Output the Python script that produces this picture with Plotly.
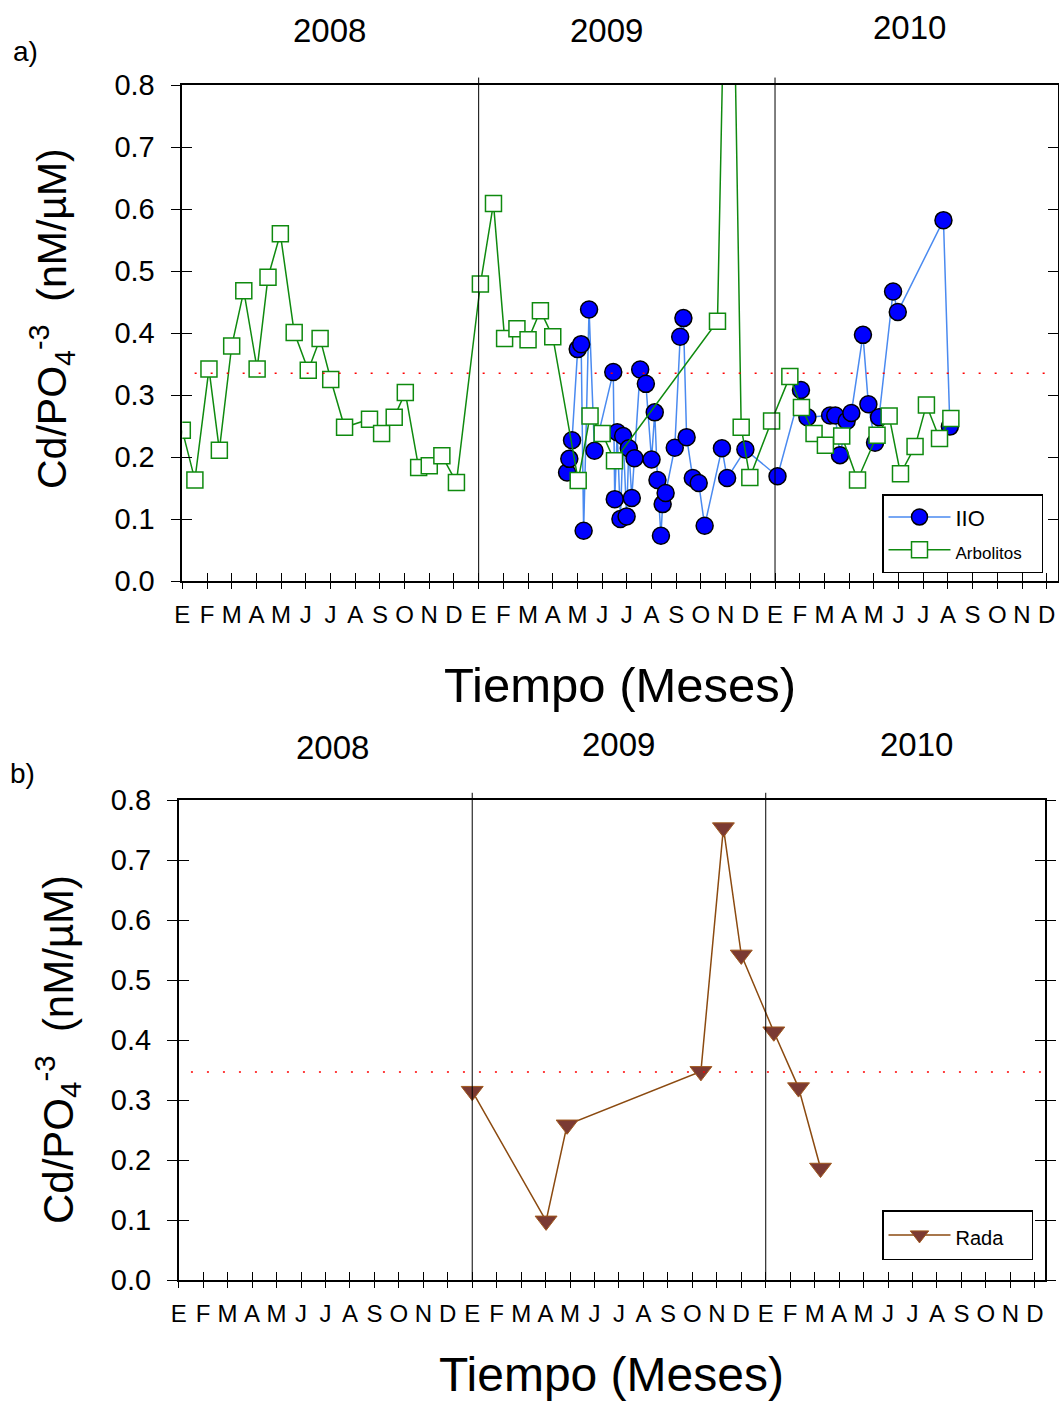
import plotly.graph_objects as go

FONT = "Liberation Sans, Arial, sans-serif"

# ---------------- data ----------------
months = ["E", "F", "M", "A", "M", "J", "J", "A", "S", "O", "N", "D"]
month_ticks = list(range(36))
month_labels = months * 3
years = ["2008", "2009", "2010"]
y_ticks = [0.0, 0.1, 0.2, 0.3, 0.4, 0.5, 0.6, 0.7, 0.8]

# Panel a) - months since Jan 2008
arb_m = [0.0, 0.51, 1.08, 1.5, 2.0, 2.49, 3.03, 3.47, 3.97, 4.53, 5.1, 5.58, 6.01,
         6.57, 7.58, 8.07, 8.58, 9.03, 9.57, 10.0, 10.51, 11.1, 12.07, 12.6, 13.05,
         13.55, 14.0, 14.5, 15.0, 16.03, 16.51, 17.0, 17.5, 21.67, 22.16, 22.63,
         22.98, 23.86, 24.6, 25.07, 25.58, 26.04, 26.7, 27.34, 28.13, 28.62, 29.08,
         29.67, 30.13, 30.66, 31.12]
arb_v = [0.243, 0.163, 0.342, 0.211, 0.379, 0.468, 0.342, 0.490, 0.560, 0.401, 0.340,
         0.391, 0.325, 0.248, 0.261, 0.238, 0.264, 0.304, 0.183, 0.186, 0.202, 0.159,
         0.479, 0.609, 0.391, 0.407, 0.389, 0.436, 0.394, 0.162, 0.266, 0.238, 0.194,
         0.419, 1.39, 0.248, 0.167, 0.258, 0.330, 0.280, 0.238, 0.219, 0.234, 0.163,
         0.235, 0.266, 0.173, 0.217, 0.284, 0.230, 0.262]

iio_m = [15.58, 15.67, 15.78, 16.01, 16.15, 16.25, 16.47, 16.69, 17.45, 17.51, 17.61,
         17.74, 17.85, 17.99, 18.08, 18.2, 18.31, 18.54, 18.77, 19.0, 19.13, 19.24,
         19.38, 19.45, 19.57, 19.94, 20.16, 20.29, 20.42, 20.67, 20.91, 21.15, 21.85,
         22.06, 22.8, 24.1, 25.05, 25.31, 26.23, 26.44, 26.63, 26.9, 27.09, 27.56,
         27.78, 28.05, 28.21, 28.78, 28.97, 30.82, 31.08]
iio_v = [0.175, 0.197, 0.227, 0.374, 0.382, 0.081, 0.438, 0.210, 0.337, 0.132, 0.240,
         0.100, 0.234, 0.104, 0.214, 0.134, 0.198, 0.341, 0.318, 0.196, 0.272, 0.163,
         0.073, 0.124, 0.142, 0.215, 0.394, 0.424, 0.232, 0.166, 0.158, 0.089, 0.214,
         0.166, 0.212, 0.169, 0.308, 0.264, 0.267, 0.267, 0.203, 0.258, 0.271, 0.397,
         0.285, 0.223, 0.264, 0.467, 0.434, 0.582, 0.249]

ref_a = 0.335

# Panel b)
rada_m = [12.0, 15.02, 15.88, 21.35, 22.27, 23.0, 24.33, 25.34, 26.24]
rada_v = [0.315, 0.099, 0.259, 0.348, 0.754, 0.542, 0.414, 0.321, 0.187]
ref_b = 0.347

year_breaks = [12, 24]

# ---------------- figure ----------------
W, H = 1059, 1405
NB = "\u00a0"
fig = go.Figure()

fig.add_trace(go.Scatter(
    x=iio_m, y=iio_v, mode="lines+markers",
    name="<span style='font-size:22px'>IIO</span>",
    line=dict(color="#4a8af0", width=1.5),
    marker=dict(symbol="circle", size=17, color="#0000ff",
                line=dict(color="black", width=1.5)),
    xaxis="x", yaxis="y", legend="legend"))
fig.add_trace(go.Scatter(
    x=arb_m, y=arb_v, mode="lines+markers",
    name="<span style='font-size:17px'>Arbolitos" + NB * 3 + "</span>",
    line=dict(color="#0f8a0f", width=1.5),
    marker=dict(symbol="square", size=16, color="white",
                line=dict(color="#0f8a0f", width=1.5)),
    xaxis="x", yaxis="y", legend="legend"))
fig.add_trace(go.Scatter(
    x=rada_m, y=rada_v, mode="lines+markers",
    name="<span style='font-size:20px'>Rada" + NB * 4 + "</span>",
    line=dict(color="#8b4a10", width=1.5),
    marker=dict(symbol="triangle-down", size=19, color="#7b3a33",
                line=dict(color="#a0581c", width=1)),
    xaxis="x2", yaxis="y2", legend="legend2"))

# invisible helpers so overlay tick axes are drawn
for xa, ya in [("x3", "y3"), ("x4", "y4"), ("x4", "y5")]:
    fig.add_trace(go.Scatter(x=[1], y=[0.1], mode="markers", opacity=0,
                             showlegend=False, hoverinfo="skip",
                             xaxis=xa, yaxis=ya))

# domains (pixel -> paper)
ax_dom = [182.3 / W, 1057.7 / W]
ay_dom = [1 - 581 / H, 1 - 85 / H]
bx_dom = [178.7 / W, 1045 / W]
by_dom = [1 - 1280.3 / H, 1 - 800 / H]
ax_rng = [0, (1057.7 - 182.3) / 24.697]
bx_rng = [0, (1045 - 178.7) / 24.46]

tickfont_x = dict(family=FONT, size=24, color="black")
tickfont_y = dict(family=FONT, size=29, color="black")

def main_x(dom, rng, anchor):
    return dict(domain=dom, range=rng, anchor=anchor, showgrid=False, zeroline=False,
                showline=True, linecolor="black", linewidth=1.5, mirror=True,
                tickmode="array", tickvals=month_ticks, ticktext=month_labels,
                ticks="outside", ticklen=6, tickwidth=1.3, tickcolor="black",
                tickfont=tickfont_x, ticklabelstandoff=5, automargin=False)

def main_y(dom, anchor):
    return dict(domain=dom, range=[0, 0.8], anchor=anchor, showgrid=False, zeroline=False,
                showline=True, linecolor="black", linewidth=1.5, mirror=True,
                tickmode="array", tickvals=y_ticks, ticktext=[f"{v:.1f}" for v in y_ticks],
                ticks="outside", ticklen=10, tickwidth=1.3, tickcolor="black",
                tickfont=tickfont_y, ticklabelstandoff=10, automargin=False)

def over_x(over, rng, anchor):
    return dict(overlaying=over, range=rng, anchor=anchor, side="bottom",
                showgrid=False, zeroline=False, showline=False, showticklabels=False,
                tickmode="array", tickvals=month_ticks, ticks="inside", ticklen=8,
                tickwidth=1.3, tickcolor="black", automargin=False)

def over_y(over, anchor, side, ticks, mirror):
    return dict(overlaying=over, range=[0, 0.8], anchor=anchor, side=side,
                showgrid=False, zeroline=False, showline=False, showticklabels=False,
                tickmode="array", tickvals=y_ticks, ticks=ticks, ticklen=10,
                tickwidth=1.3, tickcolor="black", mirror=mirror, automargin=False)

fig.update_layout(
    template="none",
    xaxis=main_x(ax_dom, ax_rng, "y"),
    yaxis=main_y(ay_dom, "x"),
    xaxis2=main_x(bx_dom, bx_rng, "y2"),
    yaxis2=main_y(by_dom, "x2"),
    xaxis3=over_x("x", ax_rng, "y"),
    yaxis3=over_y("y", "x", "left", "inside", "ticks"),
    xaxis4=over_x("x2", bx_rng, "y2"),
    yaxis4=over_y("y2", "x2", "left", "inside", "ticks"),
    yaxis5=over_y("y2", "x2", "right", "outside", False),
)

# year separators and reference lines
shapes = []
for xr, yr in [("x", "y"), ("x2", "y2")]:
    for b in year_breaks:
        shapes.append(dict(type="line", xref=xr, yref=f"{yr} domain", x0=b, x1=b,
                           y0=0, y1=1.015, line=dict(color="black", width=1)))
shapes.append(dict(type="line", xref="x", yref="y", x0=0.5, x1=ax_rng[1], y0=ref_a, y1=ref_a,
                   line=dict(color="red", width=1.5, dash="2px,14px")))
shapes.append(dict(type="line", xref="x2", yref="y2", x0=0.5, x1=bx_rng[1], y0=ref_b, y1=ref_b,
                   line=dict(color="red", width=1.5, dash="2px,14px")))
fig.update_layout(shapes=shapes)

def px(x, y):
    return x / W, 1 - y / H

ann = []
year_pos_a = [(329, 30), (606, 30), (909, 28)]
year_pos_b = [(332, 747), (618, 745), (916, 745)]
for yv, (x, y) in zip(years, year_pos_a):
    X, Y = px(x, y)
    ann.append(dict(text=yv, x=X, y=Y, font=dict(family=FONT, size=33, color="black")))
for yv, (x, y) in zip(years, year_pos_b):
    X, Y = px(x, y)
    ann.append(dict(text=yv, x=X, y=Y, font=dict(family=FONT, size=33, color="black")))
for t, (x, y) in [("a)", (25, 52)), ("b)", (22, 773))]:
    X, Y = px(x, y)
    ann.append(dict(text=t, x=X, y=Y, font=dict(family=FONT, size=28, color="black")))
for (x, y, s) in [(620, 685, 49), (611, 1374, 48)]:
    X, Y = px(x, y)
    ann.append(dict(text="Tiempo (Meses)", x=X, y=Y,
                    font=dict(family=FONT, size=s, color="black")))
ytitle = "Cd/PO<sub>4</sub><sup>-3</sup>  (nM/µM)"
for (x, y, s) in [(52, 319, 41), (57, 1050, 42)]:
    X, Y = px(x, y)
    ann.append(dict(text=ytitle, x=X, y=Y, textangle=-90,
                    font=dict(family=FONT, size=s, color="black")))
for a in ann:
    a.update(xref="paper", yref="paper", showarrow=False, xanchor="center", yanchor="middle")
fig.update_layout(annotations=ann)

lx, ly = px(882, 494)
l2x, l2y = px(882, 1210)
fig.update_layout(
    width=W, height=H, autosize=False,
    margin=dict(l=0, r=0, t=0, b=0, pad=0, autoexpand=False),
    paper_bgcolor="white", plot_bgcolor="white",
    font=dict(family=FONT, color="black"),
    legend=dict(x=lx, y=ly, xanchor="left", yanchor="top", bgcolor="white",
                bordercolor="black", borderwidth=1.5, font=dict(family=FONT, size=23),
                itemwidth=62, tracegroupgap=0),
    legend2=dict(x=l2x, y=l2y, xanchor="left", yanchor="top", bgcolor="white",
                 bordercolor="black", borderwidth=1.5, font=dict(family=FONT, size=26),
                 itemwidth=62),
    showlegend=True,
)

fig.write_html("out.html")
